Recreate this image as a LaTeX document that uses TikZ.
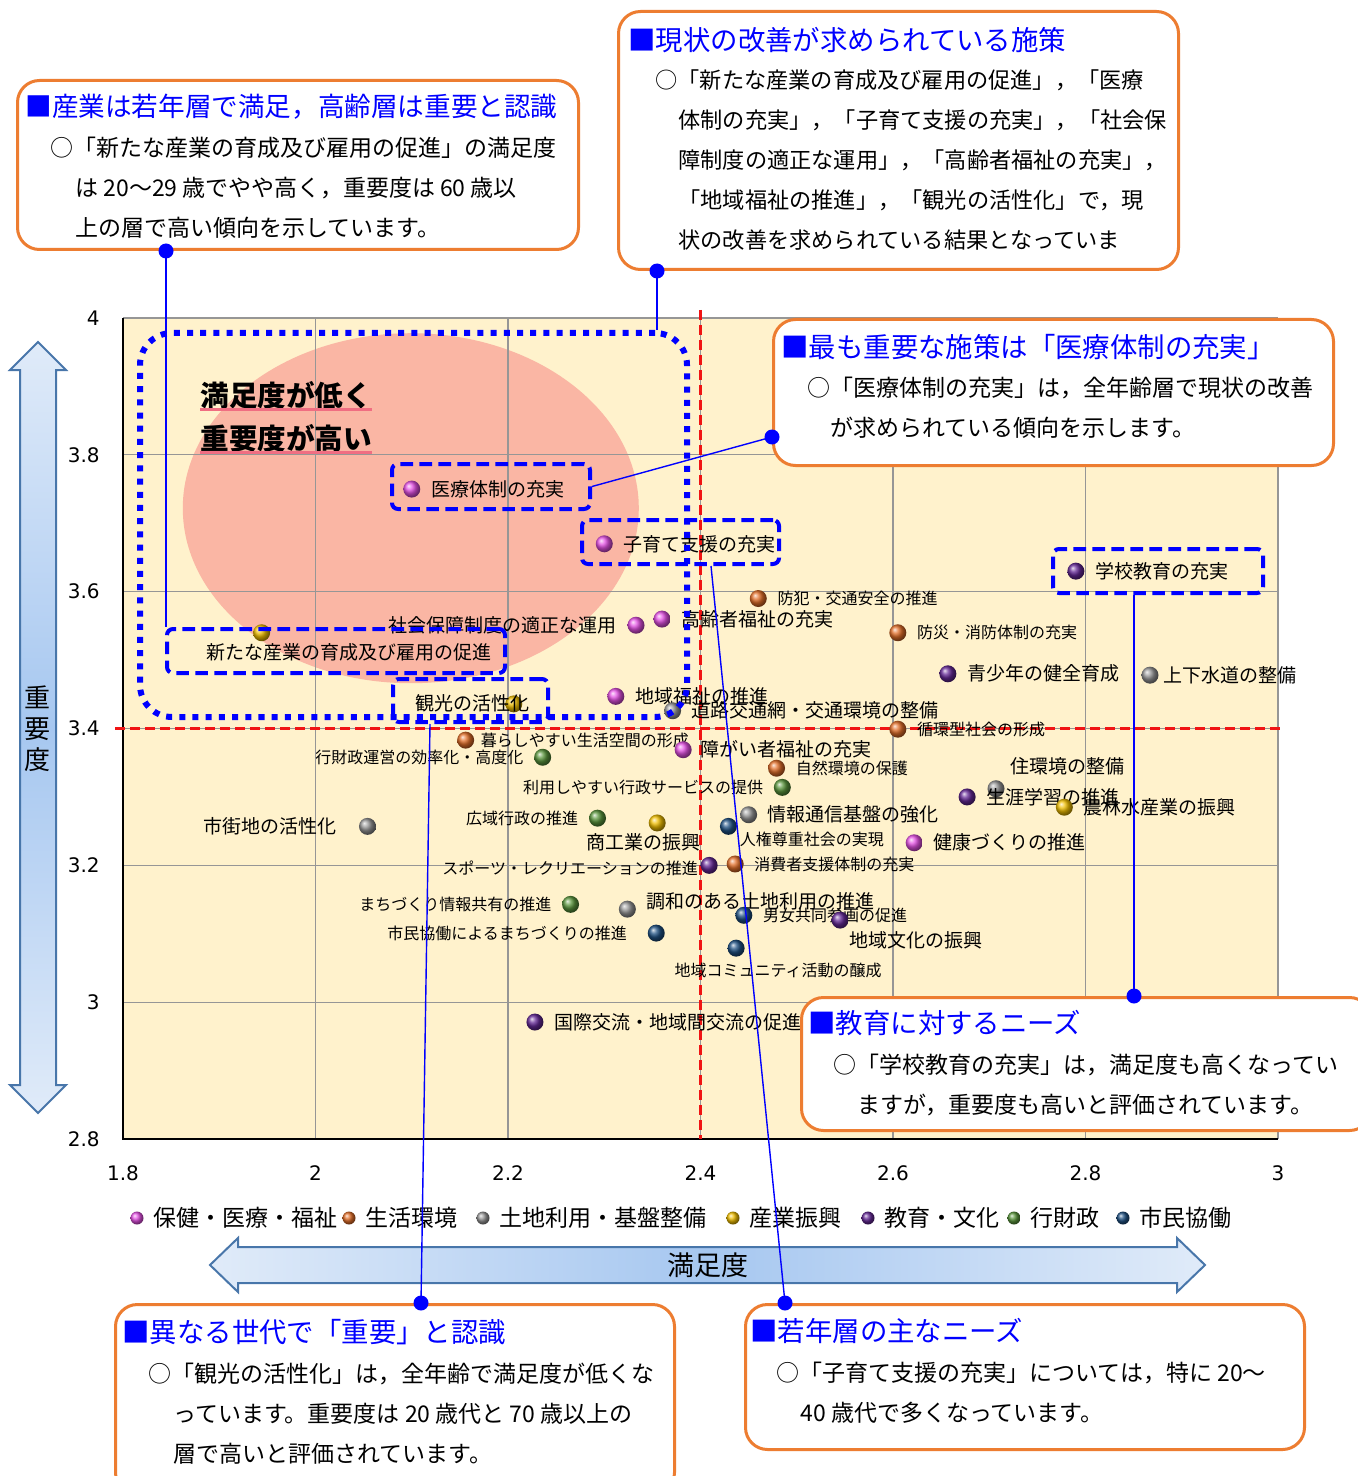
\documentclass[tikz,border=0pt]{standalone}
\usepackage{fontspec}
\setmainfont{Noto Sans CJK JP}
\newfontfamily\numfont{DejaVu Sans}
\usetikzlibrary{positioning}

\definecolor{cream}{RGB}{255,242,204}
\definecolor{gridgray}{RGB}{150,150,150}
\definecolor{noteorange}{RGB}{237,125,49}
\definecolor{hotzone}{RGB}{250,182,164}
\definecolor{markred}{RGB}{240,20,20}
\definecolor{arrowlight}{RGB}{224,235,249}
\definecolor{arrowmid}{RGB}{166,199,240}
\definecolor{arrowedge}{RGB}{72,118,170}
\definecolor{ulpink}{RGB}{240,110,130}
\definecolor{hlth}{RGB}{228,80,228}
\definecolor{life}{RGB}{226,110,40}
\definecolor{land}{RGB}{150,150,150}
\definecolor{indu}{RGB}{240,190,0}
\definecolor{edu}{RGB}{100,40,150}
\definecolor{admin}{RGB}{90,150,60}
\definecolor{civic}{RGB}{30,80,130}

\tikzset{
  notebox/.style={draw=noteorange, line width=1.5pt, rounded corners=11pt, fill=white,
    anchor=north west, inner sep=0pt},
  notetitle/.style={text=blue, anchor=west, inner sep=0pt, font=\fontsize{13.7}{16}\selectfont},
  notebody/.style={anchor=base west, inner sep=0pt, align=left, font=\fontsize{11.5}{20}\selectfont},
  tack/.style={circle, fill=blue, inner sep=0pt, minimum size=7.5pt},
  leader/.style={blue, line width=0.7pt},
  focus/.style={draw=blue, line width=2pt, dash pattern=on 6.3pt off 3.2pt, rounded corners=3pt, inner sep=0pt},
  sphere/.style={circle, inner sep=0pt, minimum size=8.5pt, shading=ball, ball color=#1},
  keyball/.style={circle, inner sep=0pt, minimum size=6.5pt, shading=ball, ball color=#1},
  keytext/.style={inner sep=0pt, font=\fontsize{11.5}{13}\selectfont},
  lbl/.style={inner sep=1pt, font=\fontsize{9.5}{11}\selectfont},
  lblsm/.style={inner sep=1pt, font=\fontsize{8}{9.5}\selectfont},
  ticknum/.style={inner sep=0pt, font=\numfont\fontsize{10}{12}\selectfont},
  headline/.style={anchor=west, inner sep=0pt, font=\bfseries\fontsize{14.3}{17}\selectfont},
  redmark/.style={markred, line width=1.5pt, dash pattern=on 5pt off 2.5pt},
  bigarrow/.style={draw=arrowedge, line width=1pt}
}

\begin{document}
\begin{tikzpicture}[x=0.5pt, y=-0.5pt]
  \useasboundingbox (0,0) rectangle (1357,1476);
  \fill[white] (0,0) rectangle (1357,1476);

  % axis arrows
  \draw[bigarrow, top color=arrowlight, bottom color=arrowlight, middle color=arrowmid]
    (38,342) -- (66,370) -- (56,370) -- (56,1085) -- (66,1085) -- (38,1113)
    -- (10,1085) -- (20,1085) -- (20,370) -- (10,370) -- cycle;
  \node[font=\fontsize{13}{15.5}\selectfont, align=center] (impaxis) at (38,729) {重\\要\\度};
  \draw[bigarrow, left color=arrowlight, right color=arrowlight, middle color=arrowmid]
    (210,1265) -- (238,1238) -- (238,1247) -- (1177,1247) -- (1177,1238) -- (1205,1265)
    -- (1177,1292) -- (1177,1283) -- (238,1283) -- (238,1292) -- cycle;
  \node[font=\fontsize{13.5}{16}\selectfont] (sataxis) at (708,1265) {満足度};

  % plot in data units
  \begin{scope}[shift={(-1609.5,3054.7)}, x=481.25pt, y=342.085pt]
    \fill[cream] (1.8,2.8) rectangle (3,4);
    \fill[hotzone] (2.099,3.722) ellipse [x radius=114pt, y radius=87.5pt];
    \foreach \gx in {2,2.2,2.4,2.6,2.8,3}
      \draw[gridgray, line width=0.6pt] (\gx,2.8) -- (\gx,4);
    \foreach \gy in {3,3.2,3.4,3.6,3.8,4}
      \draw[gridgray, line width=0.6pt] (1.8,\gy) -- (3,\gy);
    \draw[line width=0.8pt] (1.8,4) -- (1.8,2.8) -- (3,2.8);
    \draw[redmark] (2.4,4.012) -- (2.4,2.8);
    \draw[redmark] (1.792,3.4) -- (3.005,3.4);
    \foreach \v in {2.8,3,3.2,3.4,3.6,3.8,4}
      \node[ticknum, left=11.5pt] at (1.8,\v) {\v};
    \foreach \v in {1.8,2,2.2,2.4,2.6,2.8,3}
      \node[ticknum, below=13pt] at (\v,2.8) {\v};

    \node[sphere=hlth] (iryo) at (2.10,3.75) {};
    \node[lbl, right=4pt of iryo] {医療体制の充実};
    \node[sphere=hlth] (kosodate) at (2.30,3.67) {};
    \node[lbl, right=4pt of kosodate] {子育て支援の充実};
    \node[sphere=edu] (gakko) at (2.79,3.63) {};
    \node[lbl, right=4pt of gakko] {学校教育の充実};
    \node[sphere=life] (bohan) at (2.46,3.59) {};
    \node[lblsm, right=4pt of bohan] {防犯・交通安全の推進};
    \node[sphere=hlth] (koreisha) at (2.36,3.56) {};
    \node[lbl, right=4pt of koreisha] {高齢者福祉の充実};
    \node[sphere=hlth] (shakai) at (2.333,3.551) {};
    \node[lbl, left=4pt of shakai] {社会保障制度の適正な運用};
    \node[sphere=indu] (sangyo) at (1.944,3.54) {};
    \node[lbl] at (2.035,3.512) {新たな産業の育成及び雇用の促進};
    \node[sphere=life] (bosai) at (2.605,3.54) {};
    \node[lblsm, right=4pt of bosai] {防災・消防体制の充実};
    \node[sphere=edu] (seishonen) at (2.657,3.48) {};
    \node[lbl, right=4pt of seishonen] {青少年の健全育成};
    \node[sphere=land] (gesui) at (2.867,3.478) {};
    \node[lbl, right=1pt of gesui] {上下水道の整備};
    \node[sphere=hlth] (chiikifukushi) at (2.312,3.447) {};
    \node[lbl, right=4pt of chiikifukushi] {地域福祉の推進};
    \node[sphere=indu] (kanko) at (2.206,3.436) {};
    \node[lbl] at (2.163,3.437) {観光の活性化};
    \node[sphere=land] (doro) at (2.371,3.426) {};
    \node[lbl, right=4pt of doro] {道路交通網・交通環境の整備};
    \node[sphere=life] (junkan) at (2.605,3.399) {};
    \node[lblsm, right=4pt of junkan] {循環型社会の形成};
    \node[sphere=life] (kurashi) at (2.156,3.383) {};
    \node[lblsm, right=2pt of kurashi] {暮らしやすい生活空間の形成};
    \node[sphere=admin] (gyozai) at (2.236,3.358) {};
    \node[lblsm, left=4pt of gyozai] {行財政運営の効率化・高度化};
    \node[sphere=hlth] (shogaisha) at (2.382,3.369) {};
    \node[lbl, right=3pt of shogaisha] {障がい者福祉の充実};
    \node[sphere=life] (shizen) at (2.479,3.342) {};
    \node[lblsm, right=4pt of shizen] {自然環境の保護};
    \node[sphere=admin] (gyosei) at (2.485,3.314) {};
    \node[lblsm, left=4pt of gyosei] {利用しやすい行政サービスの提供};
    \node[sphere=land] (jukankyo) at (2.707,3.312) {};
    \node[lbl, anchor=west] at ([shift={(6pt,11pt)}]jukankyo.center) {住環境の整備};
    \node[sphere=edu] (gakushu) at (2.677,3.30) {};
    \node[lbl, right=4pt of gakushu] {生涯学習の推進};
    \node[sphere=indu] (norin) at (2.778,3.285) {};
    \node[lbl, right=4pt of norin] {農林水産業の振興};
    \node[sphere=land] (shigaichi) at (2.054,3.257) {};
    \node[lbl, left=10pt of shigaichi] {市街地の活性化};
    \node[sphere=admin] (koiki) at (2.293,3.269) {};
    \node[lblsm, left=4pt of koiki] {広域行政の推進};
    \node[sphere=indu] (shoko) at (2.355,3.262) {};
    \node[lbl] at ([shift={(-7pt,-9.5pt)}]shoko.center) {商工業の振興};
    \node[sphere=land] (joho) at (2.45,3.274) {};
    \node[lbl, right=4pt of joho] {情報通信基盤の強化};
    \node[sphere=civic] (jinken) at (2.429,3.257) {};
    \node[lblsm, anchor=west] at ([shift={(4.5pt,-6.5pt)}]jinken.center) {人権尊重社会の実現};
    \node[sphere=hlth] (kenko) at (2.622,3.233) {};
    \node[lbl, right=4pt of kenko] {健康づくりの推進};
    \node[sphere=edu] (sports) at (2.409,3.20) {};
    \node[lblsm, anchor=east] at ([shift={(-4.5pt,-1.5pt)}]sports.center) {スポーツ・レクリエーションの推進};
    \node[sphere=life] (shohisha) at (2.436,3.202) {};
    \node[lblsm, right=4pt of shohisha] {消費者支援体制の充実};
    \node[sphere=admin] (machijoho) at (2.265,3.143) {};
    \node[lblsm, left=4pt of machijoho] {まちづくり情報共有の推進};
    \node[sphere=land] (chowa) at (2.324,3.136) {};
    \node[lbl, anchor=west] at ([shift={(8.5pt,4pt)}]chowa.center) {調和のある土地利用の推進};
    \node[sphere=civic] (danjo) at (2.445,3.127) {};
    \node[lblsm, right=4pt of danjo] {男女共同参画の促進};
    \node[sphere=edu] (chiikibunka) at (2.545,3.12) {};
    \node[lbl, anchor=west] at ([shift={(3.5pt,-10pt)}]chiikibunka.center) {地域文化の振興};
    \node[sphere=civic] (kyodo) at (2.354,3.101) {};
    \node[lblsm, left=9pt of kyodo] {市民協働によるまちづくりの推進};
    \node[sphere=civic] (community) at (2.437,3.079) {};
    \node[lblsm, anchor=west] at ([shift={(-32pt,-11pt)}]community.center) {地域コミュニティ活動の醸成};
    \node[sphere=edu] (kokusai) at (2.228,2.971) {};
    \node[lbl, right=4pt of kokusai] {国際交流・地域間交流の促進};
  \end{scope}

  % highlighted groups
  \node[focus, minimum width=99pt, minimum height=22.5pt] (iryobox) at (491,486.5) {};
  \node[focus, minimum width=98.5pt, minimum height=22pt] (kosodatebox) at (680.5,542) {};
  \node[focus, minimum width=105pt, minimum height=22pt] (gakkobox) at (1158,571) {};
  \node[focus, minimum width=169pt, minimum height=22pt] (sangyobox) at (336,651) {};
  \node[focus, minimum width=77.5pt, minimum height=21.5pt] (kankobox) at (470.5,700.5) {};
  \node[focus, line width=3pt, dash pattern=on 3pt off 3.6pt, rounded corners=16pt,
    minimum width=273.5pt, minimum height=192pt] (lowsat) at (413.5,525) {};
  \node[headline] (hl1) at (200,395) {満足度が低く};
  \node[headline] (hl2) at (200,438) {重要度が高い};
  \draw[ulpink, line width=1.5pt] (hl1.south west) -- (hl1.south east);
  \draw[ulpink, line width=1.5pt] (hl2.south west) -- (hl2.south east);

  % legend
  \node[keyball=hlth] (key1) at (137,1218) {};
  \node[keytext, right=4.75pt of key1] {保健・医療・福祉};
  \node[keyball=life] (key2) at (349,1218) {};
  \node[keytext, right=4.75pt of key2] {生活環境};
  \node[keyball=land] (key3) at (483,1218) {};
  \node[keytext, right=4.75pt of key3] {土地利用・基盤整備};
  \node[keyball=indu] (key4) at (733,1218) {};
  \node[keytext, right=4.75pt of key4] {産業振興};
  \node[keyball=edu] (key5) at (868,1218) {};
  \node[keytext, right=4.75pt of key5] {教育・文化};
  \node[keyball=admin] (key6) at (1014,1218) {};
  \node[keytext, right=4.75pt of key6] {行財政};
  \node[keyball=civic] (key7) at (1123,1218) {};
  \node[keytext, right=4.75pt of key7] {市民協働};

  % notes (body anchored at the baseline of its last line)
  \node[notebox, minimum width=280.5pt, minimum height=84.5pt] (noteA) at (16,79) {};
  \node[notetitle, font=\fontsize{13.3}{16}\selectfont] at ([shift={(9,28)}]noteA.north west) {■産業は若年層で満足，高齢層は重要と認識};
  \node[notebody] at ([shift={(34,158)}]noteA.north west) {○「新たな産業の育成及び雇用の促進」の満足度\\\hspace*{12.5pt}は 20～29 歳でやや高く，重要度は 60 歳以\\\hspace*{12.5pt}上の層で高い傾向を示しています。};

  \node[notebox, minimum width=280pt, minimum height=129pt] (noteB) at (617,10) {};
  \node[notetitle] at ([shift={(11,30)}]noteB.north west) {■現状の改善が求められている施策};
  \node[notebody, font=\fontsize{11.1}{20}\selectfont] at ([shift={(38,239)}]noteB.north west) {○「新たな産業の育成及び雇用の促進」，「医療\\\hspace*{11.5pt}体制の充実」，「子育て支援の充実」，「社会保\\\hspace*{11.5pt}障制度の適正な運用」，「高齢者福祉の充実」，\\\hspace*{11.5pt}「地域福祉の推進」，「観光の活性化」で，現\\\hspace*{11.5pt}状の改善を求められている結果となっていま};

  \node[notebox, minimum width=280pt, minimum height=73pt] (noteC) at (772,318) {};
  \node[notetitle] at ([shift={(9,29)}]noteC.north west) {■最も重要な施策は「医療体制の充実」};
  \node[notebody] at ([shift={(35,118)}]noteC.north west) {○「医療体制の充実」は，全年齢層で現状の改善\\\hspace*{11.5pt}が求められている傾向を示します。};

  \node[notebox, minimum width=285pt, minimum height=66.5pt] (noteD) at (800,996) {};
  \node[notetitle] at ([shift={(8,27)}]noteD.north west) {■教育に対するニーズ};
  \node[notebody] at ([shift={(33,117)}]noteD.north west) {○「学校教育の充実」は，満足度も高くなってい\\\hspace*{12pt}ますが，重要度も高いと評価されています。};

  \node[notebox, minimum width=279.5pt, minimum height=95pt] (noteE) at (114,1303) {};
  \node[notetitle] at ([shift={(8,29)}]noteE.north west) {■異なる世代で「重要」と認識};
  \node[notebody] at ([shift={(34,159)}]noteE.north west) {○「観光の活性化」は，全年齢で満足度が低くな\\\hspace*{12.5pt}っています。重要度は 20 歳代と 70 歳以上の\\\hspace*{12.5pt}層で高いと評価されています。};

  \node[notebox, minimum width=279.5pt, minimum height=72.5pt] (noteF) at (744,1303) {};
  \node[notetitle] at ([shift={(6,28)}]noteF.north west) {■若年層の主なニーズ};
  \node[notebody] at ([shift={(32,118)}]noteF.north west) {○「子育て支援の充実」については，特に 20～\\\hspace*{12pt}40 歳代で多くなっています。};

  % leaders from notes to groups
  \coordinate (tackA) at ([xshift=75pt]noteA.south west);
  \coordinate (tackB) at ([xshift=20pt]noteB.south west);
  \coordinate (tackC) at ([yshift=-59.5pt]noteC.north west);
  \coordinate (tackD) at ([xshift=167pt]noteD.north west);
  \coordinate (tackE) at ([xshift=153.5pt]noteE.north west);
  \coordinate (tackF) at ([xshift=20.5pt]noteF.north west);
  \draw[leader] (tackA) -- (tackA |- sangyobox.north);
  \draw[leader] (tackB) -- (tackB |- lowsat.north);
  \draw[leader] (tackC) -- (iryobox.east);
  \draw[leader] (tackD) -- (tackD |- gakkobox.south);
  \draw[leader] (tackE) -- ([xshift=19.5pt]kankobox.south west);
  \draw[leader] (tackF) -- ([xshift=65.5pt]kosodatebox.south west);
  \foreach \t in {tackA,tackB,tackC,tackD,tackE,tackF}
    \node[tack] at (\t) {};
\end{tikzpicture}
\end{document}
